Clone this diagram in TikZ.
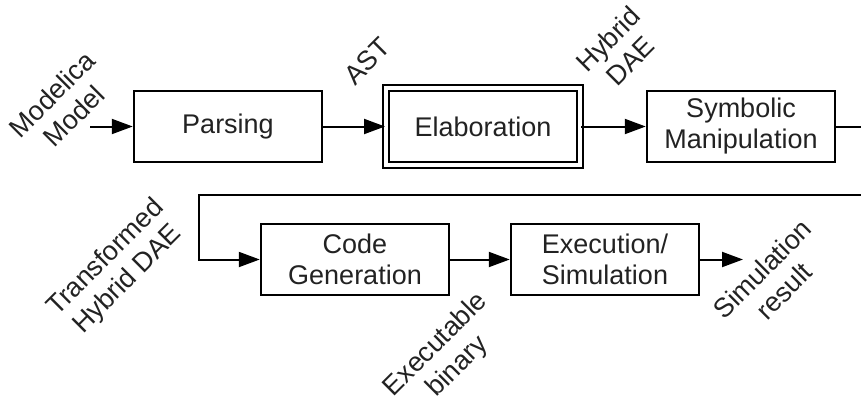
\documentclass[tikz,border=0pt]{standalone}
\usepackage{fontspec}
\setmainfont{Liberation Sans}
\usetikzlibrary{arrows.meta}
\tikzset{>={Triangle[width=15pt,length=21pt]}}
\definecolor{inkgray}{HTML}{222222}
\tikzset{
  stage/.style={draw, line width=2.5pt, minimum width=188pt, minimum height=71pt,
    align=center, inner sep=0pt},
  flowlbl/.style={rotate=45, align=center},
}

\begin{document}
\begin{tikzpicture}[x=1pt, y=-1pt, line width=2pt,
  font=\fontsize{27}{31}\selectfont, text=inkgray]

  \newcommand\Ya{126.5};
  \newcommand\Yb{259.5};

  \useasboundingbox (0,0) rectangle (861,401);
  \clip (0,0) rectangle (861,401);

  %% stages
  \node[stage] (parse) at (228,\Ya) {Parsing};
  \node[stage, double, double distance=4pt, line width=2pt,
    minimum width=194pt, minimum height=76pt] (elab) at (483,\Ya) {Elaboration};
  \node[stage] (sym) at (741,\Ya) {Symbolic\\Manipulation};
  \node[stage] (code) at (355,\Yb) {Code\\Generation};
  \node[stage] (exec) at (605,\Yb) {Execution/\\Simulation};

  %% free ends
  \coordinate (in) at (90,\Ya);
  \coordinate (out) at (743,\Yb);
  \coordinate (edge) at (875,0);
  \coordinate (turn) at (199,195);

  \draw[->] (in) -- (parse);
  \draw[->] (parse) -- (elab);
  \draw[->] (elab) -- (sym);
  \draw[->] (sym.east) -- (sym.east -| edge) |- (turn) |- (code.west); %% wraps round
  \draw[->] (code) -- (exec);
  \draw[->] (exec) -- (out);

  %% labels
  \node[flowlbl] (lblin) at (63,105) {Modelica\\Model};
  \node[flowlbl] (lblast) at (367,61) {AST};
  \node[flowlbl] (lbldae) at (619,50) {Hybrid\\DAE};
  \node[flowlbl] (lbltdae) at (117,269) {Transformed\\Hybrid DAE};
  \node[flowlbl] (lblbin) at (447,356) {Executable\\binary};
  \node[flowlbl] (lblres) at (773,280) {Simulation\\result};

\end{tikzpicture}
\end{document}
